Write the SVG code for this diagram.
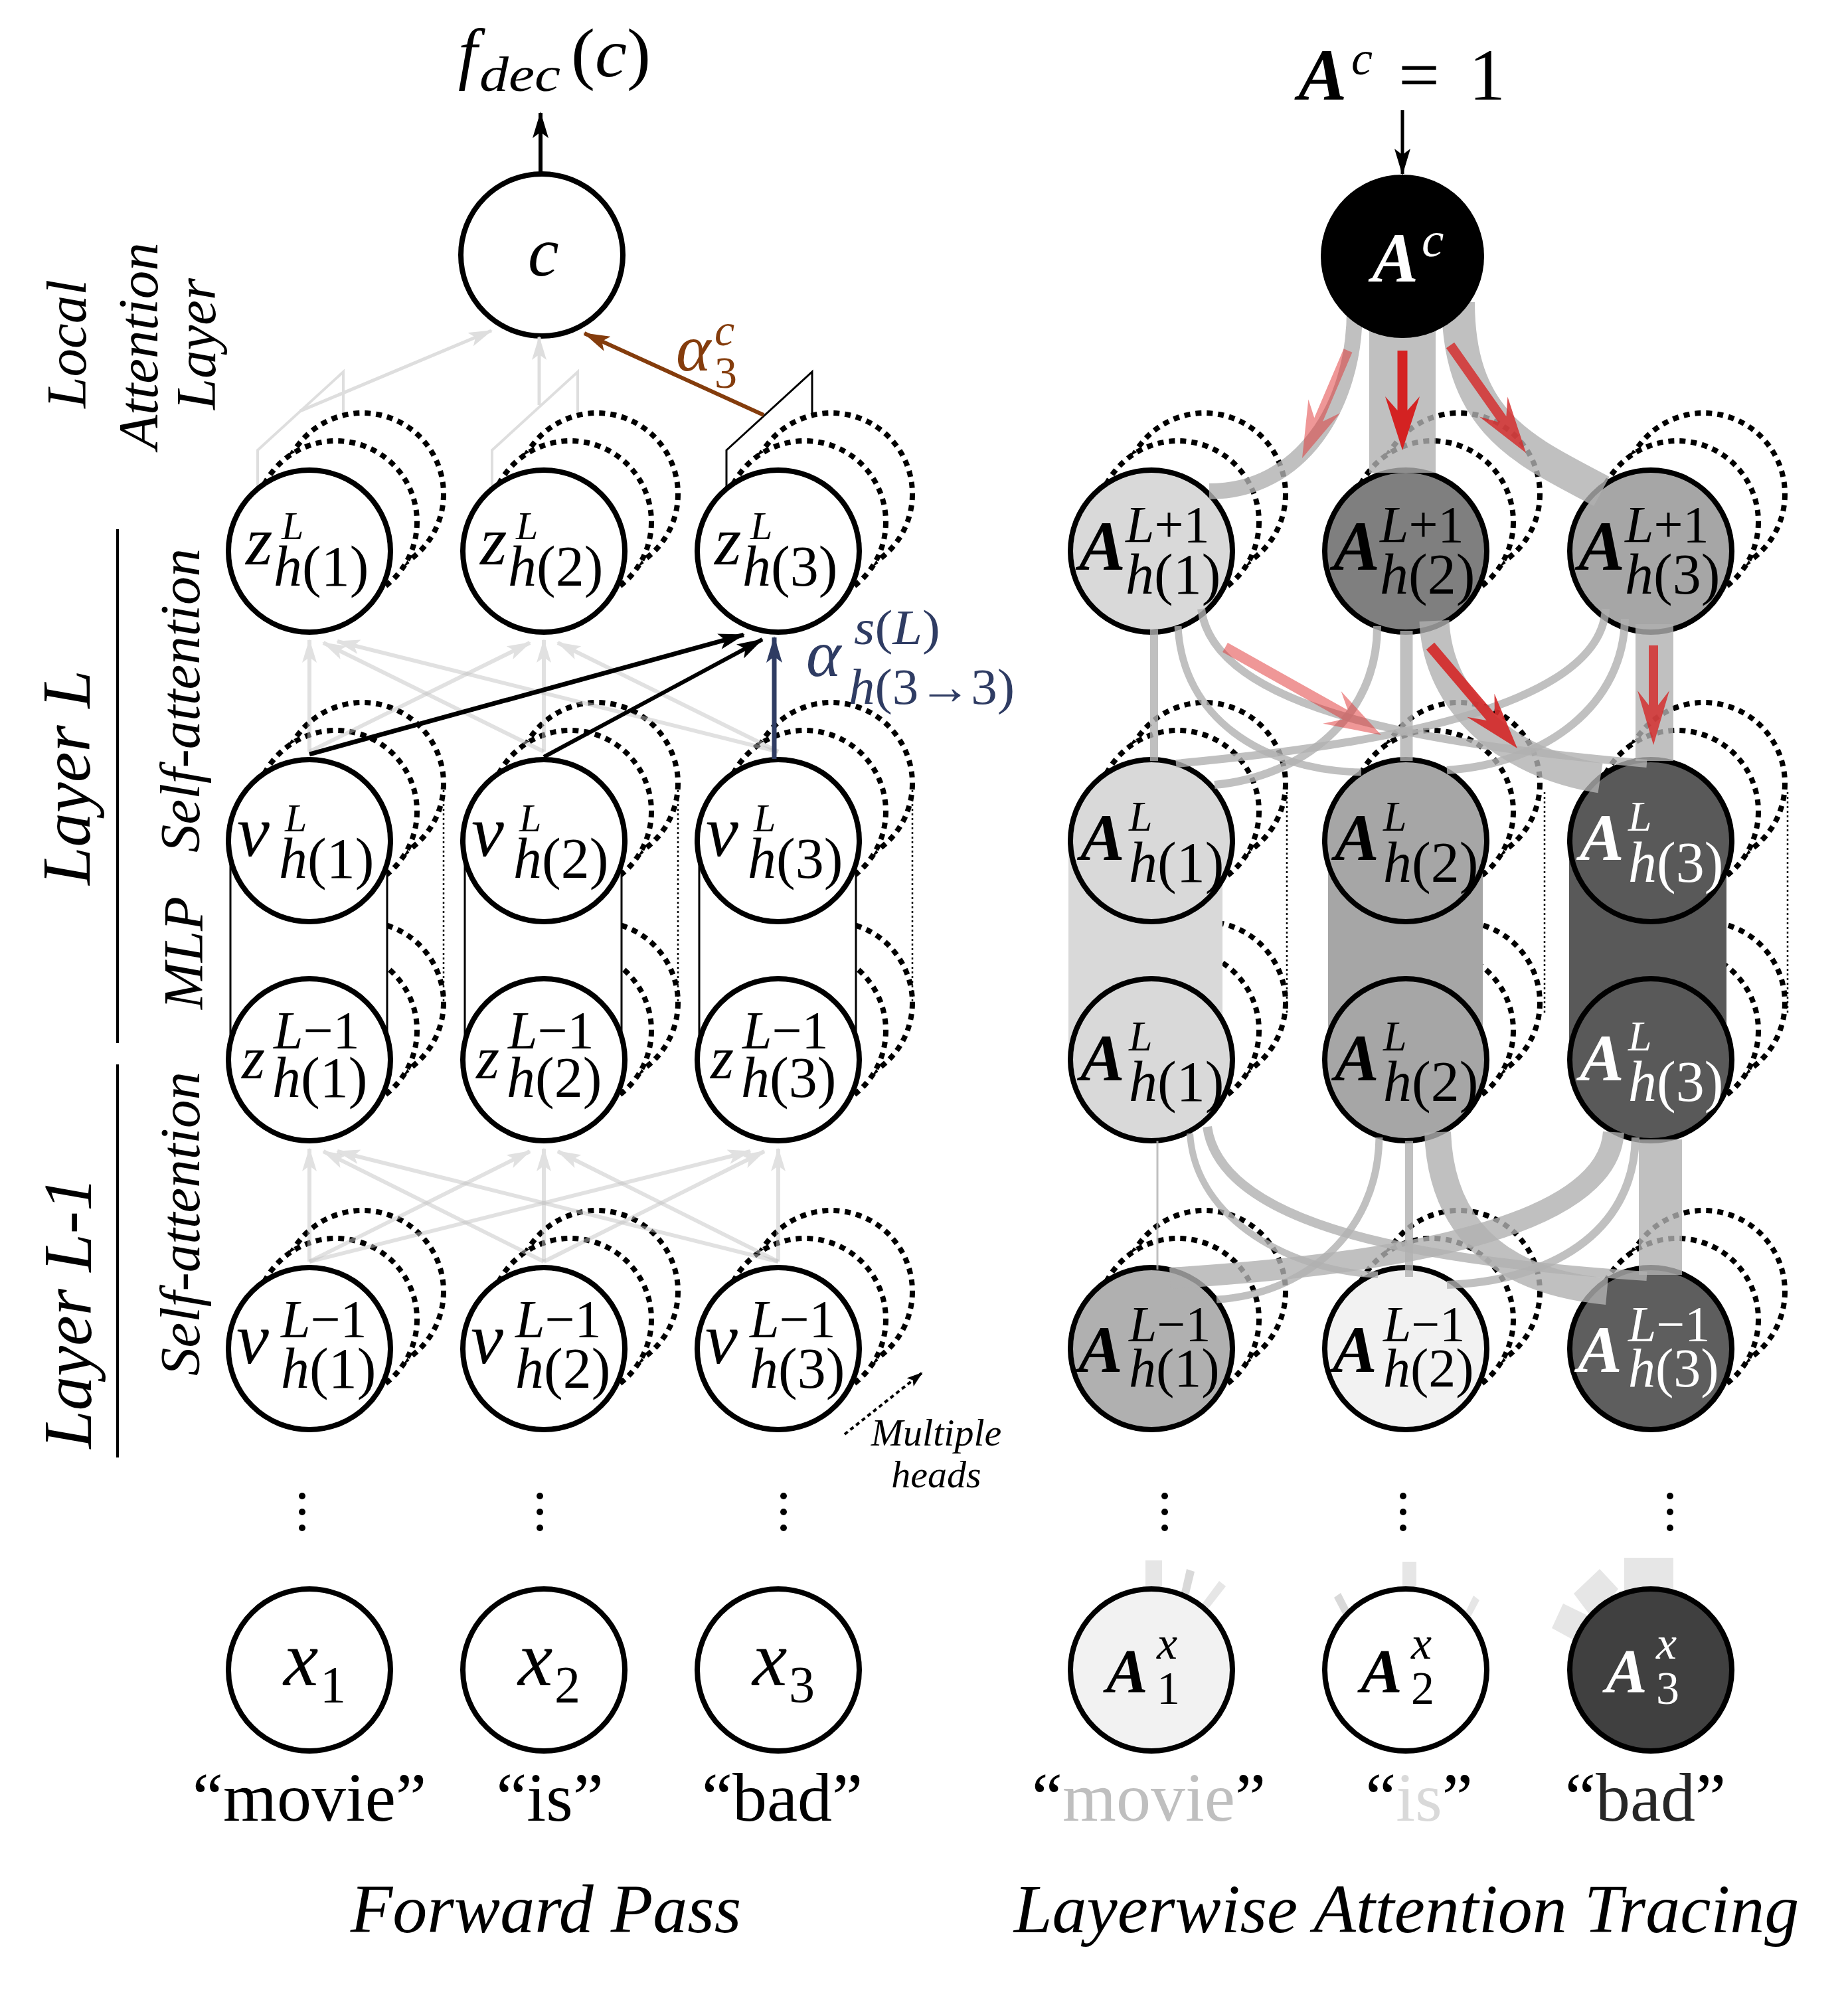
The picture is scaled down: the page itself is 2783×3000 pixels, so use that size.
<svg xmlns="http://www.w3.org/2000/svg" width="2783" height="3000" viewBox="0 0 2783 3000">
<defs>
<style>
.t{font-family:"Liberation Serif","Times New Roman",serif}
.i{font-style:italic}
.b{font-weight:bold}
.wt{fill:#fff}
.nd{stroke:#000;stroke-width:8}
.hd{fill:#fff;stroke:#000;stroke-width:8;stroke-dasharray:9 8}
.fd{fill:none;stroke:#000;stroke-width:2.5;stroke-dasharray:3 4}
.gl{fill:none;stroke:#c4c4c4;stroke-opacity:.5;stroke-width:6}
.la{fill:none;stroke:#dedede}
.gc{fill:none;stroke:#b0b0b0;stroke-opacity:.8}
.gb{fill:#b0b0b0;fill-opacity:.8}
.st{fill:#e6e6e6}
.mlp{fill:#fff;stroke:#000;stroke-width:3}
</style>
<marker id="ahK" viewBox="0 0 40 24" refX="38" refY="12" markerWidth="40" markerHeight="24" orient="auto" markerUnits="userSpaceOnUse"><path d="M0,0 L40,12 L0,24 L9,12 z" fill="#000"/></marker>
<marker id="ahN" viewBox="0 0 40 24" refX="38" refY="12" markerWidth="40" markerHeight="24" orient="auto" markerUnits="userSpaceOnUse"><path d="M0,0 L40,12 L0,24 L9,12 z" fill="#2F3C63"/></marker>
<marker id="ahB" viewBox="0 0 40 24" refX="38" refY="12" markerWidth="40" markerHeight="24" orient="auto" markerUnits="userSpaceOnUse"><path d="M0,0 L40,12 L0,24 L9,12 z" fill="#843C0C"/></marker>
<marker id="ahG" viewBox="0 0 36 22" refX="34" refY="11" markerWidth="36" markerHeight="22" orient="auto" markerUnits="userSpaceOnUse"><path d="M0,0 L36,11 L0,22 L8,11 z" fill="#e1e1e1"/></marker>
<marker id="ahL" viewBox="0 0 36 22" refX="34" refY="11" markerWidth="36" markerHeight="22" orient="auto" markerUnits="userSpaceOnUse"><path d="M0,0 L36,11 L0,22 L8,11 z" fill="#dedede"/></marker>
<marker id="ahS" viewBox="0 0 24 16" refX="22" refY="8" markerWidth="24" markerHeight="16" orient="auto" markerUnits="userSpaceOnUse"><path d="M0,0 L24,8 L0,16 L5,8 z" fill="#000"/></marker>
</defs>
<rect width="2783" height="3000" fill="#fff"/>

<!-- local attention planes (behind) -->
<g id="local-planes">
<polygon class="la" stroke-width="4" points="388,678 517,560 517,800 388,918"/>
<polygon class="la" stroke-width="4" points="741,678 870,560 870,800 741,918"/>
<polygon fill="none" stroke="#000" stroke-width="3" points="1094,678 1223,560 1223,800 1094,918"/>
</g>

<!-- multiple heads (dotted copies) -->
<g id="heads">
<circle class="hd" cx="546" cy="744" r="122"/><circle class="hd" cx="506" cy="786" r="122"/>
<circle class="hd" cx="899" cy="744" r="122"/><circle class="hd" cx="859" cy="786" r="122"/>
<circle class="hd" cx="1252" cy="744" r="122"/><circle class="hd" cx="1212" cy="786" r="122"/>
<circle class="hd" cx="546" cy="1180" r="122"/><circle class="hd" cx="506" cy="1222" r="122"/>
<circle class="hd" cx="899" cy="1180" r="122"/><circle class="hd" cx="859" cy="1222" r="122"/>
<circle class="hd" cx="1252" cy="1180" r="122"/><circle class="hd" cx="1212" cy="1222" r="122"/>
<circle class="hd" cx="546" cy="1510" r="122"/><circle class="hd" cx="506" cy="1552" r="122"/>
<circle class="hd" cx="899" cy="1510" r="122"/><circle class="hd" cx="859" cy="1552" r="122"/>
<circle class="hd" cx="1252" cy="1510" r="122"/><circle class="hd" cx="1212" cy="1552" r="122"/>
<circle class="hd" cx="546" cy="1945" r="122"/><circle class="hd" cx="506" cy="1987" r="122"/>
<circle class="hd" cx="899" cy="1945" r="122"/><circle class="hd" cx="859" cy="1987" r="122"/>
<circle class="hd" cx="1252" cy="1945" r="122"/><circle class="hd" cx="1212" cy="1987" r="122"/>

<circle class="hd" cx="1814" cy="744" r="122"/><circle class="hd" cx="1774" cy="786" r="122"/>
<circle class="hd" cx="2197" cy="744" r="122"/><circle class="hd" cx="2157" cy="786" r="122"/>
<circle class="hd" cx="2566" cy="744" r="122"/><circle class="hd" cx="2526" cy="786" r="122"/>
<circle class="hd" cx="1814" cy="1180" r="122"/><circle class="hd" cx="1774" cy="1222" r="122"/>
<circle class="hd" cx="2197" cy="1180" r="122"/><circle class="hd" cx="2157" cy="1222" r="122"/>
<circle class="hd" cx="2566" cy="1180" r="122"/><circle class="hd" cx="2526" cy="1222" r="122"/>
<circle class="hd" cx="1814" cy="1510" r="122"/><circle class="hd" cx="1774" cy="1552" r="122"/>
<circle class="hd" cx="2197" cy="1510" r="122"/><circle class="hd" cx="2157" cy="1552" r="122"/>
<circle class="hd" cx="2566" cy="1510" r="122"/><circle class="hd" cx="2526" cy="1552" r="122"/>
<circle class="hd" cx="1814" cy="1945" r="122"/><circle class="hd" cx="1774" cy="1987" r="122"/>
<circle class="hd" cx="2197" cy="1945" r="122"/><circle class="hd" cx="2157" cy="1987" r="122"/>
<circle class="hd" cx="2566" cy="1945" r="122"/><circle class="hd" cx="2526" cy="1987" r="122"/>

<line class="fd" x1="668" y1="1190" x2="668" y2="1518"/>
<line class="fd" x1="1021" y1="1190" x2="1021" y2="1518"/>
<line class="fd" x1="1374" y1="1190" x2="1374" y2="1518"/>
<line class="fd" x1="1938" y1="1193" x2="1938" y2="1528"/>
<line class="fd" x1="2326" y1="1193" x2="2326" y2="1528"/>
<line class="fd" x1="2692" y1="1193" x2="2692" y2="1528"/>
</g>

<!-- MLP blocks -->
<g id="mlp">
<rect class="mlp" x="347" y="1266" width="236" height="330"/>
<rect class="mlp" x="700" y="1266" width="236" height="330"/>
<rect class="mlp" x="1053" y="1266" width="236" height="330"/>
<rect x="1609" y="1266" width="232" height="330" fill="#d9d9d9"/>
<rect x="2000" y="1266" width="233" height="330" fill="#a6a6a6"/>
<rect x="2363" y="1266" width="237" height="330" fill="#595959"/>
</g>

<!-- faded input stubs -->
<g id="stubs">
<rect class="st" x="1725" y="2350" width="25" height="50"/>
<polygon fill="#d9d9d9" points="1787,2363 1799,2367 1786,2420 1774,2420"/>
<polygon class="st" points="1836,2381 1846,2389 1814,2430 1804,2424"/>
<rect class="st" x="2112" y="2352" width="21" height="48"/>
<polygon fill="#d9d9d9" points="2009,2406 2019,2399 2040,2440 2030,2446"/>
<polygon class="st" points="2219,2403 2228,2410 2212,2440 2203,2436"/>
<rect class="st" x="2446" y="2346" width="74" height="54"/>
<polygon class="st" points="2409,2363 2437,2393 2400,2440 2370,2400"/>
<polygon class="st" points="2354,2415 2391,2433 2370,2470 2337,2452"/>
</g>

<!-- left nodes -->
<g id="node-c"><circle class="nd" fill="#fff" cx="816" cy="384" r="122"/><text class="t i" x="795" y="415" font-size="105">c</text></g>

<g id="node-zL-1"><circle class="nd" fill="#fff" cx="466" cy="830" r="122"/><text class="t i" x="370" y="850" font-size="104">z</text><text class="t i" x="424" y="812" font-size="60">L</text><text class="t" x="412" y="882" font-size="86"><tspan class="i">h</tspan>(1)</text></g>
<g id="node-zL-2"><circle class="nd" fill="#fff" cx="819" cy="830" r="122"/><text class="t i" x="723" y="850" font-size="104">z</text><text class="t i" x="777" y="812" font-size="60">L</text><text class="t" x="765" y="882" font-size="86"><tspan class="i">h</tspan>(2)</text></g>
<g id="node-zL-3"><circle class="nd" fill="#fff" cx="1172" cy="830" r="122"/><text class="t i" x="1076" y="850" font-size="104">z</text><text class="t i" x="1130" y="812" font-size="60">L</text><text class="t" x="1118" y="882" font-size="86"><tspan class="i">h</tspan>(3)</text></g>

<g id="node-vL-1"><circle class="nd" fill="#fff" cx="466" cy="1266" r="122"/><text class="t i" x="357" y="1289" font-size="110">v</text><text class="t i" x="429" y="1252" font-size="60">L</text><text class="t" x="420" y="1322" font-size="86"><tspan class="i">h</tspan>(1)</text></g>
<g id="node-vL-2"><circle class="nd" fill="#fff" cx="819" cy="1266" r="122"/><text class="t i" x="710" y="1289" font-size="110">v</text><text class="t i" x="782" y="1252" font-size="60">L</text><text class="t" x="773" y="1322" font-size="86"><tspan class="i">h</tspan>(2)</text></g>
<g id="node-vL-3"><circle class="nd" fill="#fff" cx="1172" cy="1266" r="122"/><text class="t i" x="1063" y="1289" font-size="110">v</text><text class="t i" x="1135" y="1252" font-size="60">L</text><text class="t" x="1126" y="1322" font-size="86"><tspan class="i">h</tspan>(3)</text></g>

<g id="node-zL1-1"><circle class="nd" fill="#fff" cx="466" cy="1596" r="122"/><text class="t i" x="364" y="1624" font-size="90">z</text><text class="t" x="412" y="1579" font-size="80"><tspan class="i">L</tspan>−1</text><text class="t" x="410" y="1652" font-size="86"><tspan class="i">h</tspan>(1)</text></g>
<g id="node-zL1-2"><circle class="nd" fill="#fff" cx="819" cy="1596" r="122"/><text class="t i" x="717" y="1624" font-size="90">z</text><text class="t" x="765" y="1579" font-size="80"><tspan class="i">L</tspan>−1</text><text class="t" x="763" y="1652" font-size="86"><tspan class="i">h</tspan>(2)</text></g>
<g id="node-zL1-3"><circle class="nd" fill="#fff" cx="1172" cy="1596" r="122"/><text class="t i" x="1070" y="1624" font-size="90">z</text><text class="t" x="1118" y="1579" font-size="80"><tspan class="i">L</tspan>−1</text><text class="t" x="1116" y="1652" font-size="86"><tspan class="i">h</tspan>(3)</text></g>

<g id="node-vL1-1"><circle class="nd" fill="#fff" cx="466" cy="2031" r="122"/><text class="t i" x="356" y="2053" font-size="110">v</text><text class="t" x="423" y="2014" font-size="80"><tspan class="i">L</tspan>−1</text><text class="t" x="423" y="2090" font-size="86"><tspan class="i">h</tspan>(1)</text></g>
<g id="node-vL1-2"><circle class="nd" fill="#fff" cx="819" cy="2031" r="122"/><text class="t i" x="709" y="2053" font-size="110">v</text><text class="t" x="776" y="2014" font-size="80"><tspan class="i">L</tspan>−1</text><text class="t" x="776" y="2090" font-size="86"><tspan class="i">h</tspan>(2)</text></g>
<g id="node-vL1-3"><circle class="nd" fill="#fff" cx="1172" cy="2031" r="122"/><text class="t i" x="1062" y="2053" font-size="110">v</text><text class="t" x="1129" y="2014" font-size="80"><tspan class="i">L</tspan>−1</text><text class="t" x="1129" y="2090" font-size="86"><tspan class="i">h</tspan>(3)</text></g>

<g id="node-x1"><circle class="nd" fill="#fff" cx="466" cy="2515" r="122"/><text class="t i" x="427" y="2538" font-size="118">x</text><text class="t" x="482" y="2563" font-size="78">1</text></g>
<g id="node-x2"><circle class="nd" fill="#fff" cx="819" cy="2515" r="122"/><text class="t i" x="780" y="2538" font-size="118">x</text><text class="t" x="835" y="2563" font-size="78">2</text></g>
<g id="node-x3"><circle class="nd" fill="#fff" cx="1172" cy="2515" r="122"/><text class="t i" x="1133" y="2538" font-size="118">x</text><text class="t" x="1188" y="2563" font-size="78">3</text></g>

<!-- right nodes -->
<g id="node-AL1-1"><circle class="nd" fill="#d9d9d9" cx="1734" cy="830" r="122"/><text class="t i b" x="1625" y="858" font-size="105">A</text><text class="t" x="1695" y="816" font-size="78"><tspan class="i">L</tspan>+1</text><text class="t" x="1695" y="894" font-size="86"><tspan class="i">h</tspan>(1)</text></g>
<g id="node-AL1-2"><circle class="nd" fill="#7f7f7f" cx="2117" cy="830" r="122"/><text class="t i b" x="2008" y="858" font-size="105">A</text><text class="t" x="2078" y="816" font-size="78"><tspan class="i">L</tspan>+1</text><text class="t" x="2078" y="894" font-size="86"><tspan class="i">h</tspan>(2)</text></g>
<g id="node-AL1-3"><circle class="nd" fill="#a6a6a6" cx="2486" cy="830" r="122"/><text class="t i b" x="2377" y="858" font-size="105">A</text><text class="t" x="2447" y="816" font-size="78"><tspan class="i">L</tspan>+1</text><text class="t" x="2447" y="894" font-size="86"><tspan class="i">h</tspan>(3)</text></g>

<g id="node-AL-1"><circle class="nd" fill="#d9d9d9" cx="1734" cy="1266" r="122"/><text class="t i b" x="1627" y="1295" font-size="100">A</text><text class="t i" x="1700" y="1251" font-size="64">L</text><text class="t" x="1700" y="1328" font-size="86"><tspan class="i">h</tspan>(1)</text></g>
<g id="node-AL-2"><circle class="nd" fill="#a6a6a6" cx="2117" cy="1266" r="122"/><text class="t i b" x="2010" y="1295" font-size="100">A</text><text class="t i" x="2083" y="1251" font-size="64">L</text><text class="t" x="2083" y="1328" font-size="86"><tspan class="i">h</tspan>(2)</text></g>
<g id="node-AL-3"><circle class="nd" fill="#595959" cx="2486" cy="1266" r="122"/><text class="t i b wt" x="2379" y="1295" font-size="100">A</text><text class="t i wt" x="2452" y="1251" font-size="64">L</text><text class="t wt" x="2452" y="1328" font-size="86"><tspan class="i">h</tspan>(3)</text></g>

<g id="node-ALm-1"><circle class="nd" fill="#d9d9d9" cx="1734" cy="1596" r="122"/><text class="t i b" x="1627" y="1627" font-size="100">A</text><text class="t i" x="1700" y="1582" font-size="64">L</text><text class="t" x="1700" y="1658" font-size="86"><tspan class="i">h</tspan>(1)</text></g>
<g id="node-ALm-2"><circle class="nd" fill="#a6a6a6" cx="2117" cy="1596" r="122"/><text class="t i b" x="2010" y="1627" font-size="100">A</text><text class="t i" x="2083" y="1582" font-size="64">L</text><text class="t" x="2083" y="1658" font-size="86"><tspan class="i">h</tspan>(2)</text></g>
<g id="node-ALm-3"><circle class="nd" fill="#595959" cx="2486" cy="1596" r="122"/><text class="t i b wt" x="2379" y="1627" font-size="100">A</text><text class="t i wt" x="2452" y="1582" font-size="64">L</text><text class="t wt" x="2452" y="1658" font-size="86"><tspan class="i">h</tspan>(3)</text></g>

<g id="node-ALp-1"><circle class="nd" fill="#b0b0b0" cx="1734" cy="2031" r="122"/><text class="t i b" x="1624" y="2066" font-size="100">A</text><text class="t" x="1700" y="2020" font-size="76"><tspan class="i">L</tspan>−1</text><text class="t" x="1700" y="2088" font-size="82"><tspan class="i">h</tspan>(1)</text></g>
<g id="node-ALp-2"><circle class="nd" fill="#f2f2f2" cx="2117" cy="2031" r="122"/><text class="t i b" x="2007" y="2066" font-size="100">A</text><text class="t" x="2083" y="2020" font-size="76"><tspan class="i">L</tspan>−1</text><text class="t" x="2083" y="2088" font-size="82"><tspan class="i">h</tspan>(2)</text></g>
<g id="node-ALp-3"><circle class="nd" fill="#5e5e5e" cx="2486" cy="2031" r="122"/><text class="t i b wt" x="2376" y="2066" font-size="100">A</text><text class="t wt" x="2452" y="2020" font-size="76"><tspan class="i">L</tspan>−1</text><text class="t wt" x="2452" y="2088" font-size="82"><tspan class="i">h</tspan>(3)</text></g>

<g id="node-Ax1"><circle class="nd" fill="#f2f2f2" cx="1734" cy="2515" r="122"/><text class="t i b" x="1666" y="2548" font-size="94">A</text><text class="t i" x="1742" y="2498" font-size="70">x</text><text class="t" x="1742" y="2566" font-size="70">1</text></g>
<g id="node-Ax2"><circle class="nd" fill="#fff" cx="2117" cy="2515" r="122"/><text class="t i b" x="2049" y="2548" font-size="94">A</text><text class="t i" x="2125" y="2498" font-size="70">x</text><text class="t" x="2125" y="2566" font-size="70">2</text></g>
<g id="node-Ax3"><circle class="nd" fill="#404040" cx="2486" cy="2515" r="122"/><text class="t i b wt" x="2418" y="2548" font-size="94">A</text><text class="t i wt" x="2494" y="2498" font-size="70">x</text><text class="t wt" x="2494" y="2566" font-size="70">3</text></g>

<!-- connectors -->
<g id="connectors">
<line class="la" stroke-width="5" x1="452" y1="619" x2="740" y2="498" marker-end="url(#ahL)"/>
<line class="la" stroke-width="5" x1="812" y1="610" x2="812" y2="508" marker-end="url(#ahL)"/>
<line stroke="#843C0C" stroke-width="6" x1="1150" y1="625" x2="880" y2="502" marker-end="url(#ahB)"/>
<line stroke="#000" stroke-width="6" x1="814" y1="262" x2="814" y2="170" marker-end="url(#ahK)"/>

<line class="gl" x1="466" y1="1132" x2="466" y2="964" marker-end="url(#ahG)"/>
<line class="gl" x1="819" y1="1132" x2="487" y2="968" marker-end="url(#ahG)"/>
<line class="gl" x1="1172" y1="1132" x2="508" y2="966" marker-end="url(#ahG)"/>
<line class="gl" x1="466" y1="1132" x2="798" y2="968" marker-end="url(#ahG)"/>
<line class="gl" x1="819" y1="1132" x2="819" y2="964" marker-end="url(#ahG)"/>
<line class="gl" x1="1172" y1="1132" x2="840" y2="968" marker-end="url(#ahG)"/>
<line stroke="#000" stroke-width="7" x1="466" y1="1136" x2="1120" y2="956" marker-end="url(#ahK)"/>
<line stroke="#000" stroke-width="6" x1="819" y1="1140" x2="1148" y2="963" marker-end="url(#ahK)"/>
<line stroke="#2F3C63" stroke-width="7" x1="1166" y1="1143" x2="1166" y2="960" marker-end="url(#ahN)"/>

<line class="gl" x1="466" y1="1900" x2="466" y2="1730" marker-end="url(#ahG)"/>
<line class="gl" x1="819" y1="1900" x2="487" y2="1734" marker-end="url(#ahG)"/>
<line class="gl" x1="1172" y1="1900" x2="508" y2="1734" marker-end="url(#ahG)"/>
<line class="gl" x1="466" y1="1900" x2="798" y2="1734" marker-end="url(#ahG)"/>
<line class="gl" x1="819" y1="1900" x2="819" y2="1730" marker-end="url(#ahG)"/>
<line class="gl" x1="1172" y1="1900" x2="840" y2="1734" marker-end="url(#ahG)"/>
<line class="gl" x1="466" y1="1900" x2="1130" y2="1734" marker-end="url(#ahG)"/>
<line class="gl" x1="819" y1="1900" x2="1151" y2="1734" marker-end="url(#ahG)"/>
<line class="gl" x1="1172" y1="1900" x2="1172" y2="1730" marker-end="url(#ahG)"/>

<line stroke="#000" stroke-width="4" stroke-dasharray="6 5" x1="1272" y1="2160" x2="1388" y2="2068" marker-end="url(#ahS)"/>

<!-- attention tracing flows -->
<path class="gc" stroke-width="24" d="M2040 468 C2040 610 1960 740 1821 740"/>
<rect class="gb" x="2062" y="460" width="100" height="252"/>
<path class="gc" stroke-width="50" d="M2196 455 C2196 640 2300 680 2412 740"/>

<line class="gc" stroke-width="12" x1="1738" y1="948" x2="1738" y2="1146"/>
<path class="gc" stroke-width="11" d="M1774 943 C1780 1080 1900 1160 2050 1163"/>
<path class="gc" stroke-width="12" d="M1809 917 C1830 1080 2200 1125 2480 1150"/>
<path class="gc" stroke-width="12" d="M2074 943 C2075 1080 1960 1170 1829 1182"/>
<line class="gc" stroke-width="19" x1="2118" y1="950" x2="2118" y2="1146"/>
<path class="gc" stroke-width="45" d="M2160 935 C2165 1060 2270 1150 2410 1172"/>
<path class="gc" stroke-width="12" d="M2418 917 C2410 1060 2100 1120 1771 1150"/>
<path class="gc" stroke-width="12" d="M2447 932 C2445 1060 2330 1150 2179 1160"/>
<rect class="gb" x="2463" y="940" width="57" height="206"/>

<line class="gc" stroke-width="3" x1="1743" y1="1718" x2="1743" y2="1912"/>
<path class="gc" stroke-width="10" d="M1792 1707 C1800 1840 1950 1915 2075 1920"/>
<path class="gc" stroke-width="14" d="M1818 1697 C1840 1850 2150 1900 2480 1922"/>
<path class="gc" stroke-width="11" d="M2077 1713 C2075 1860 1960 1950 1832 1957"/>
<line class="gc" stroke-width="12" x1="2122" y1="1718" x2="2122" y2="1923"/>
<path class="gc" stroke-width="40" d="M2165 1705 C2170 1850 2260 1930 2420 1945"/>
<path class="gc" stroke-width="32" d="M2430 1705 C2420 1870 2000 1910 1762 1925"/>
<path class="gc" stroke-width="12" d="M2463 1713 C2460 1860 2330 1930 2179 1935"/>
<rect class="gb" x="2468" y="1716" width="65" height="204"/>

<polygon fill="#e03030" fill-opacity=".5" points="2023.6,525.3 1979.3,629.3 1970.4,601.6 1961,690 2018.2,622 1992.1,634.7 2036.4,530.7"/>
<polygon fill="#d42222" points="2104.5,528 2104.5,618 2086,597 2112,678 2138,597 2119.5,618 2119.5,528"/>
<polygon fill="#d42a2a" fill-opacity=".82" points="2177.9,524.3 2256.2,635.6 2227.8,627.5 2298,682 2270.4,597.5 2268.4,627 2190.1,515.7"/>
<polygon fill="#e03030" fill-opacity=".5" points="1841.1,982 2022,1083.6 1992.2,1089.7 2080,1107 2019.6,1040.9 2029.8,1069.6 1848.9,968"/>
<polygon fill="#d42a2a" fill-opacity=".92" points="2147.9,978.2 2238.7,1085 2209.3,1079.7 2285,1127 2250.5,1044.7 2250.9,1074.6 2160.1,967.8"/>
<polygon fill="#d42a2a" fill-opacity=".82" points="2483,972 2483,1062 2466,1040 2490,1122 2514,1040 2497,1062 2497,972"/>

<line stroke="#000" stroke-width="5" x1="2112" y1="166" x2="2112" y2="262" marker-end="url(#ahK)"/>
</g>

<g id="node-Ac"><circle fill="#000" cx="2112" cy="386" r="123"/><text class="t i b wt" x="2066" y="424" font-size="105">A</text><text class="t i wt" x="2141" y="386" font-size="75">c</text></g>

<!-- dots -->
<g id="ellipsis" fill="#000">
<circle cx="455" cy="2253" r="5"/><circle cx="455" cy="2277" r="5"/><circle cx="455" cy="2301" r="5"/>
<circle cx="813" cy="2253" r="5"/><circle cx="813" cy="2277" r="5"/><circle cx="813" cy="2301" r="5"/>
<circle cx="1180" cy="2253" r="5"/><circle cx="1180" cy="2277" r="5"/><circle cx="1180" cy="2301" r="5"/>
<circle cx="1754" cy="2253" r="5"/><circle cx="1754" cy="2277" r="5"/><circle cx="1754" cy="2301" r="5"/>
<circle cx="2113" cy="2253" r="5"/><circle cx="2113" cy="2277" r="5"/><circle cx="2113" cy="2301" r="5"/>
<circle cx="2515" cy="2253" r="5"/><circle cx="2515" cy="2277" r="5"/><circle cx="2515" cy="2301" r="5"/>
</g>

<!-- labels -->
<g id="labels" class="t">
<text class="i" x="690" y="115" font-size="104">f</text>
<text class="i" x="722" y="137" font-size="75" textLength="122" lengthAdjust="spacingAndGlyphs">dec</text>
<text x="860" y="115" font-size="104" textLength="120" lengthAdjust="spacingAndGlyphs">(<tspan class="i">c</tspan>)</text>

<text class="i b" x="1955" y="150" font-size="110">A</text>
<text class="i" x="2035" y="112" font-size="72">c</text>
<text x="2106" y="150" font-size="110">=</text>
<text x="2212" y="150" font-size="110">1</text>

<g fill="#843C0C">
<text class="i" x="1018" y="558" font-size="100">α</text>
<text class="i" x="1076" y="520" font-size="68">c</text>
<text x="1076" y="584" font-size="68">3</text>
</g>
<g fill="#2F3C63">
<text class="i" x="1214" y="1018" font-size="100">α</text>
<text x="1286" y="970" font-size="74" textLength="130" lengthAdjust="spacingAndGlyphs"><tspan class="i">s</tspan>(<tspan class="i">L</tspan>)</text>
<text x="1278" y="1060" font-size="76" textLength="250" lengthAdjust="spacingAndGlyphs"><tspan class="i">h</tspan>(3→3)</text>
</g>

<g class="i" font-size="85" text-anchor="middle">
<text transform="translate(129,518) rotate(-90)">Local</text>
<text transform="translate(237,521) rotate(-90)">Attention</text>
<text transform="translate(324,518) rotate(-90)">Layer</text>
<text transform="translate(300,1055) rotate(-90)">Self-attention</text>
<text transform="translate(305,1435) rotate(-90)">MLP</text>
<text transform="translate(300,1843) rotate(-90)">Self-attention</text>
</g>
<g class="i" font-size="103" text-anchor="middle">
<text transform="translate(135,1171) rotate(-90)">Layer L</text>
<text transform="translate(137,1977) rotate(-90)">Layer L-1</text>
</g>
<line x1="177" y1="797" x2="177" y2="1571" stroke="#000" stroke-width="4"/>
<line x1="177" y1="1603" x2="177" y2="2195" stroke="#000" stroke-width="4"/>

<g class="i" font-size="58" text-anchor="middle">
<text x="1410" y="2177">Multiple</text>
<text x="1410" y="2240">heads</text>
</g>

<g font-size="104" text-anchor="middle">
<text x="466" y="2742">“movie”</text>
<text x="828" y="2742">“is”</text>
<text x="1178" y="2742">“bad”</text>
<text x="1730" y="2742">“<tspan fill="#bfbfbf">movie</tspan>”</text>
<text x="2137" y="2742">“<tspan fill="#d9d9d9">is</tspan>”</text>
<text x="2478" y="2742">“<tspan fill="#262626">bad</tspan>”</text>
</g>
<g class="i" font-size="104" text-anchor="middle">
<text x="822" y="2910">Forward Pass</text>
<text x="2118" y="2910">Layerwise Attention Tracing</text>
</g>
</g>
</svg>
